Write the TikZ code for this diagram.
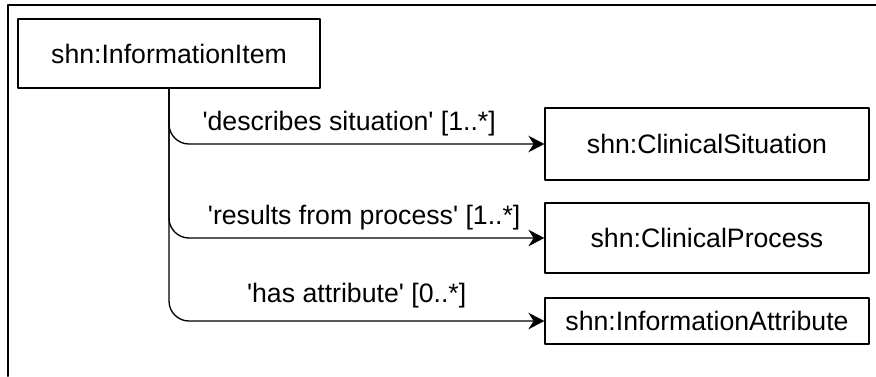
\documentclass[tikz,border=0pt]{standalone}
\usepackage{fontspec}
\setmainfont{Liberation Sans}
\usetikzlibrary{arrows.meta}

\tikzset{
  cls/.style={draw, line width=1pt, inner sep=0pt, minimum width=243pt},
  link/.style={line width=1pt, rounded corners=15pt, -{Stealth[length=12pt, width=12.5pt, inset=4pt]}},
  role/.style={inner sep=0pt, yshift=15pt}
}
\newcommand{\q}{\textquotesingle}

\begin{document}
\begin{tikzpicture}[x=0.75pt, y=-0.75pt, line cap=round, line join=round,
    font=\fontsize{20}{24}\selectfont]
  \useasboundingbox (0,0) rectangle (876,376);

  % frame
  \draw[line width=1.5pt] (876,5) -- (8,5) -- (8,376);

  % classes
  \node[cls, minimum width=226.5pt, minimum height=51.75pt] (item) at (169,53.5) {shn:InformationItem};
  \node[cls, minimum height=54pt] (sit) at (707,144) {shn:ClinicalSituation};
  \node[cls, minimum height=52.5pt] (proc) at (707,238) {shn:ClinicalProcess};
  \node[cls, minimum height=34.5pt] (attr) at (707,321) {shn:InformationAttribute};

  % roles
  \draw[link] (item.south) |- (sit.west) node[role, pos=0.74] {\q describes situation\q{} [1..*]};
  \draw[link] (item.south) |- (proc.west) node[role, pos=0.76] {\q results from process\q{} [1..*]};
  \draw[link] (item.south) |- (attr.west) node[role, pos=0.75, yshift=4pt] {\q has attribute\q{} [0..*]};
\end{tikzpicture}
\end{document}
